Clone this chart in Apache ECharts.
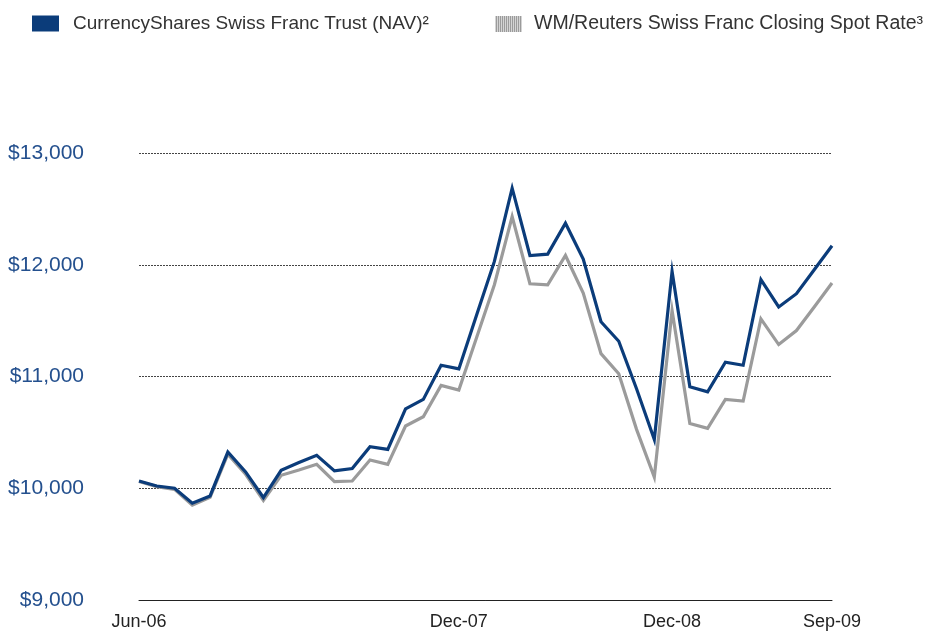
<!DOCTYPE html>
<html>
<head>
<meta charset="utf-8">
<script src="https://cdn.jsdelivr.net/npm/echarts@6/dist/echarts.min.js"></script>
<style>
html,body{margin:0;padding:0;background:#fff;}
#chart{width:933px;height:631px;}
</style>
</head>
<body>
<div id="chart"></div>
<script>
var categories = ["Jun-06","Jul-06","Aug-06","Sep-06","Oct-06","Nov-06","Dec-06",
  "Jan-07","Feb-07","Mar-07","Apr-07","May-07","Jun-07","Jul-07","Aug-07","Sep-07","Oct-07","Nov-07","Dec-07",
  "Jan-08","Feb-08","Mar-08","Apr-08","May-08","Jun-08","Jul-08","Aug-08","Sep-08","Oct-08","Nov-08","Dec-08",
  "Jan-09","Feb-09","Mar-09","Apr-09","May-09","Jun-09","Jul-09","Aug-09","Sep-09"];
var shownLabels = ["Jun-06","Dec-07","Dec-08","Sep-09"];
var navName = "CurrencyShares Swiss Franc Trust (NAV)\u00b2";
var spotName = "WM/Reuters Swiss Franc Closing Spot Rate\u00b3";
var navValues = [10065, 10020, 10000, 9866, 9931, 10324, 10146, 9917, 10161, 10230,
  10295, 10155, 10176, 10372, 10348, 10711, 10795, 11101, 11068, 11550,
  12030, 12685, 12083, 12095, 12372, 12051, 11490, 11315, 10890, 10437,
  11940, 10908, 10863, 11128, 11101, 11866, 11622, 11741, 11955, 12170];
var spotValues = [10060, 10015, 9990, 9850, 9920, 10305, 10125, 9890, 10116, 10163,
  10214, 10060, 10065, 10253, 10214, 10557, 10640, 10920, 10878, 11350,
  11821, 12431, 11830, 11821, 12083, 11747, 11205, 11025, 10527, 10100,
  11590, 10580, 10536, 10795, 10780, 11515, 11286, 11411, 11622, 11837];
var yTicks = [9000, 10000, 11000, 12000, 13000];

var NAVY = '#0b3c7a';
var GRAY = '#9b9b9b';
var FONT = "'Liberation Sans', Arial, sans-serif";

var chart = echarts.init(document.getElementById('chart'));
chart.setOption({
  animation: false,
  textStyle: { fontFamily: FONT },
  legend: [{
    left: 32, top: 14, padding: 0, itemWidth: 27, itemHeight: 16,
    data: [{ name: navName, icon: 'rect' }],
    textStyle: { fontSize: 19, color: '#333', fontFamily: FONT, padding: [0,0,0,9] },
    selectedMode: false
  }, {
    left: 495, top: 14, padding: 0, itemWidth: 27, itemHeight: 16,
    data: [{ name: spotName, icon: 'rect' }],
    textStyle: { fontSize: 19.5, color: '#333', fontFamily: FONT, padding: [0,0,0,7] },
    selectedMode: false
  }],
  grid: { left: 139, right: 101, top: 153, bottom: 30, containLabel: false },
  xAxis: {
    type: 'category',
    data: categories,
    boundaryGap: false,
    axisLine: { show: true, lineStyle: { color: '#222', width: 1 } },
    axisTick: { show: false },
    splitLine: { show: false },
    axisLabel: {
      interval: function (idx, val) { return shownLabels.indexOf(val) >= 0; },
      fontSize: 18, color: '#222', margin: 13, fontFamily: FONT
    }
  },
  yAxis: {
    type: 'value',
    min: yTicks[0], max: yTicks[yTicks.length - 1], interval: 1000,
    axisLine: { show: false },
    axisTick: { show: false },
    splitLine: { show: true, lineStyle: { color: '#444', width: 1, type: [2, 1] } },
    axisLabel: {
      fontSize: 21, color: '#24508e', margin: 55, fontFamily: FONT,
      padding: [3, 0, 0, 0],
      formatter: function (v) { return '$' + v.toLocaleString('en-US'); }
    }
  },
  series: [{
    name: spotName, type: 'line', data: spotValues,
    symbol: 'none', smooth: false,
    itemStyle: {
      color: GRAY,
      decal: { symbol: 'rect', symbolSize: 1, dashArrayX: [1, 1], dashArrayY: [1, 0], rotation: 0, color: '#d4d4d4' }
    },
    lineStyle: { color: GRAY, width: 3.2, join: 'miter', miterLimit: 10 },
    z: 2
  }, {
    name: navName, type: 'line', data: navValues,
    symbol: 'none', smooth: false,
    itemStyle: { color: NAVY },
    lineStyle: { color: NAVY, width: 3.2, join: 'miter', miterLimit: 10 },
    z: 3
  }]
});
</script>
</body>
</html>
